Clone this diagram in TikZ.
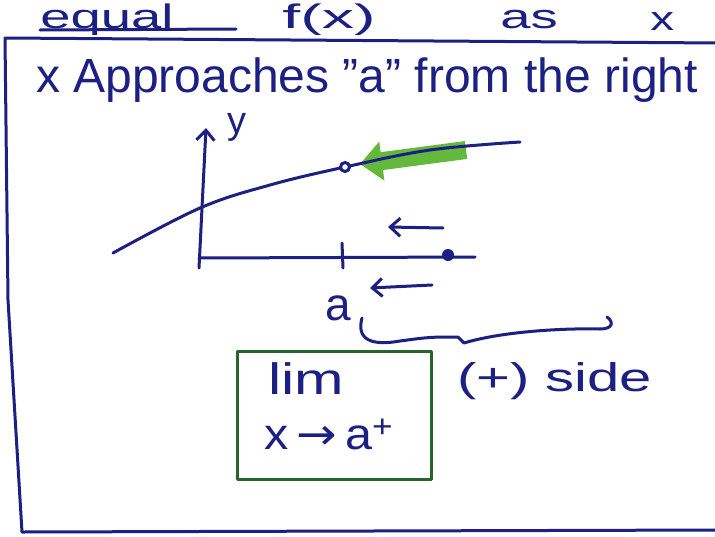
\documentclass[tikz,border=0pt]{standalone}
\usepackage{fontspec}
\setmainfont{Liberation Sans}
\newfontfamily\arrowfont{DejaVu Sans}
\usetikzlibrary{arrows.meta}
\definecolor{ink}{RGB}{28,32,130}
\definecolor{boxgreen}{RGB}{40,100,45}
\definecolor{hl}{RGB}{100,185,60}
\tikzset{
  pen/.style={draw=ink, line width=3pt, line cap=round, line join=round},
  hand/.style={text=ink, inner sep=0pt, anchor=base west},
  barb/.style={-{Straight Barb[length=10pt,width=18pt,line width=3pt]}}
}
\begin{document}
\begin{tikzpicture}[x=1pt,y=-1pt]
\useasboundingbox (0,0) rectangle (715,536);
\fill[white] (0,0) rectangle (715,536);
% top text
\node[hand, font=\fontsize{34}{34}\selectfont, xscale=1.6] (t1) at (40,28) {equal};
\node[hand, font=\fontsize{34}{34}\selectfont, xscale=1.9] (t2) at (282,28) {f(x)};
\node[hand, font=\fontsize{34}{34}\selectfont, xscale=1.6] (t3) at (500,28) {as};
\node[hand, font=\fontsize{34}{34}\selectfont, xscale=1.4] (t4) at (650,30) {x};
\begin{scope}
\clip (0,0) rectangle (715,536);
\draw[pen] (40,30) -- (236,29);
% outer frame
\draw[pen] (720,43) -- (5,38) -- (8,300) -- (22,532) -- (720,530);
\end{scope}
% title
\node[hand, font=\fontsize{48}{48}\selectfont] (title) at (36,92) {x Approaches ''a'' from the right};
% axes
\coordinate (ytop) at (206,128);
\coordinate (xend) at (475,257);
\draw[pen, barb] (199,268) -- (ytop);
\node[hand, font=\fontsize{38}{38}\selectfont] (ylab) at (227,133) {y};
\draw[pen] (199,258) -- (xend);
\draw[pen] (342,243) -- (343,268);
\fill[ink] (448,255) circle (6);
% green arrow highlight
\draw[hl, line width=18pt, -{Triangle[length=22pt,width=38pt]}] (466,150) -- (360,164);
% curve
\draw[pen] plot[smooth, tension=0.6] coordinates {(113,253) (200,208) (270,185) (345,167) (430,150) (520,142)};
\draw[ink, line width=3pt, fill=white] (345,167) circle (4.5);
% small arrows
\draw[pen, barb] (443,228) -- (388,227);
\draw[pen, barb] (432,285) -- (370,288);
\node[hand, font=\fontsize{46}{46}\selectfont] (alab) at (325,320) {a};
% brace
\draw[pen] (362,318) .. controls (356,340) and (372,346) .. (400,341)
  .. controls (430,337) .. (458,337) -- (464,343)
  .. controls (500,332) and (560,328) .. (600,329)
  .. controls (613,329) and (614,322) .. (607,317);
% lim box
\draw[boxgreen, line width=3pt, line join=round] (237,351) rectangle (431,479);
\node[hand, font=\fontsize{44}{44}\selectfont, xscale=1.35] (lim) at (268,394) {lim};
\node[hand, font=\fontsize{44}{44}\selectfont, xscale=1.1] (lima) at (264,449) {x\,{\arrowfont →}\,a\raisebox{12pt}{\fontsize{32}{32}\selectfont +}};
\node[hand, font=\fontsize{40}{40}\selectfont, xscale=1.45] (side) at (457,391) {(+) side};
\end{tikzpicture}
\end{document}
